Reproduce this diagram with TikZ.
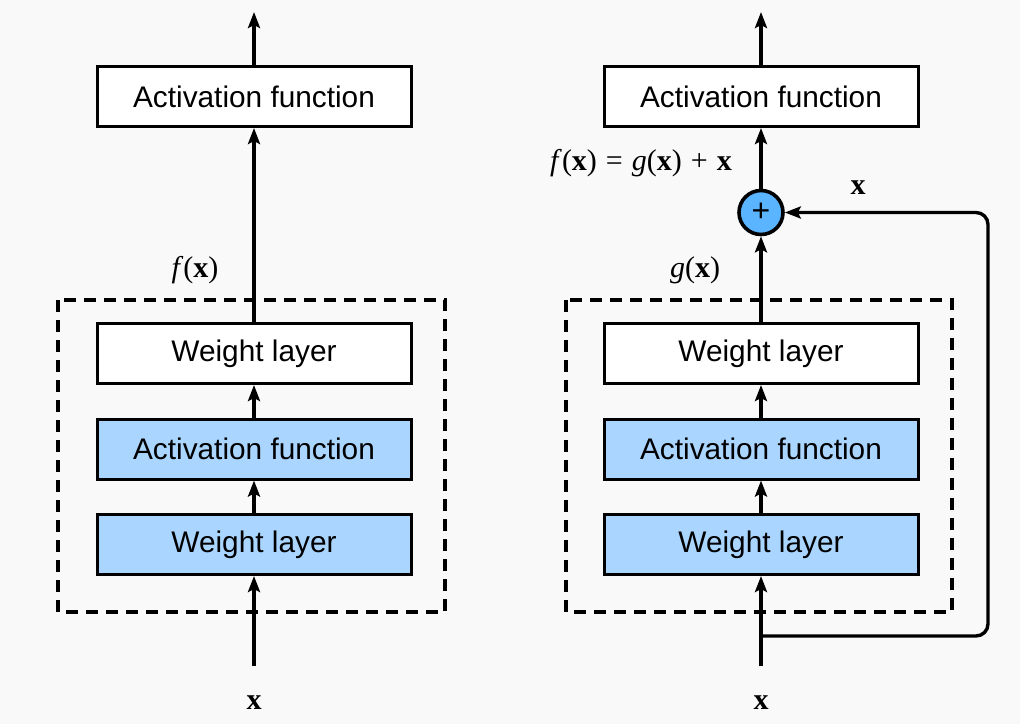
\documentclass[tikz,border=0pt]{standalone}
\usepackage{fontspec}
\setmainfont{Liberation Sans}
\newfontfamily\ser{Liberation Serif}
\usetikzlibrary{arrows.meta}
\definecolor{bg}{HTML}{F9F9F9}
\definecolor{lblue}{HTML}{A9D5FF}
\definecolor{cblue}{HTML}{5AB4FF}
\tikzset{
  arr/.style={line width=3.4pt, -{Stealth[length=16pt,width=12pt,inset=3pt]}},
  box/.style={draw, line width=3pt, minimum width=314pt, minimum height=60pt, inner sep=0pt, font=\fontsize{29.8}{32}\selectfont},
  wbox/.style={box, fill=white},
  bbox/.style={box, fill=lblue},
  dashbox/.style={draw, dashed, dash pattern=on 12pt off 8pt, line width=3.2pt},
  lbl/.style={font=\ser\fontsize{30}{32}\selectfont, inner sep=0pt},
}
\newcommand{\gp}{\hspace{0.3em}}
\begin{document}
\begin{tikzpicture}[x=1pt,y=-1pt]
\fill[bg] (0,0) rectangle (1020,724);
\useasboundingbox (0,0) rectangle (1020,724);
% ---------- left ----------
\draw[dashbox] (58,300) rectangle (445,612);
\node[wbox] (la) at (254,96.5) {Activation function};
\node[wbox] (lw2) at (254,353.5) {Weight layer};
\node[bbox] (lact) at (254,449) {Activation function};
\node[bbox] (lw1) at (254,544.5) {Weight layer};
\coordinate (ltop) at (254,12);
\coordinate (lin) at (254,666);
\node[lbl] (lx) at (254,703) {\textbf{x}};
\node[lbl] (lf) at (195,270) {\textit{f}(\textbf{x})};
\draw[arr] (la.north) -- (ltop);
\draw[arr] (lw2.north) -- (la.south);
\draw[arr] (lact.north) -- (lw2.south);
\draw[arr] (lw1.north) -- (lact.south);
\draw[arr] (lin) -- (lw1.south);
% ---------- right ----------
\draw[dashbox] (566,300) rectangle (952,612);
\node[wbox] (ra) at (761,96.5) {Activation function};
\node[wbox] (rw2) at (761,353.5) {Weight layer};
\node[bbox] (ract) at (761,449) {Activation function};
\node[bbox] (rw1) at (761,544.5) {Weight layer};
\node[circle, draw, fill=cblue, line width=3.6pt, minimum size=44pt, inner sep=0pt, font=\fontsize{32}{32}\selectfont] (plus) at (761,212.5) {+};
\coordinate (rtop) at (761,12);
\coordinate (rin) at (761,666);
\coordinate (rsplit) at (761,636);
\coordinate (rc1) at (988,636);
\coordinate (rc2) at (988,212.5);
\node[lbl] (rx) at (761,703) {\textbf{x}};
\node[lbl] (rg) at (695,270) {\textit{g}(\textbf{x})};
\node[lbl] (rf) at (641,163) {\textit{f}(\textbf{x})\gp=\gp\textit{g}(\textbf{x})\gp+\gp\textbf{x}};
\node[lbl] (rxs) at (858,188) {\textbf{x}};
\draw[arr] (ra.north) -- (rtop);
\draw[arr] (plus.north) -- (ra.south);
\draw[arr] (rw2.north) -- (plus.south);
\draw[arr] (ract.north) -- (rw2.south);
\draw[arr] (rw1.north) -- (ract.south);
\draw[arr] (rin) -- (rw1.south);
\draw[arr, rounded corners=12pt] (rsplit) -- (rc1) -- (rc2) -- (plus.east);
\end{tikzpicture}
\end{document}
